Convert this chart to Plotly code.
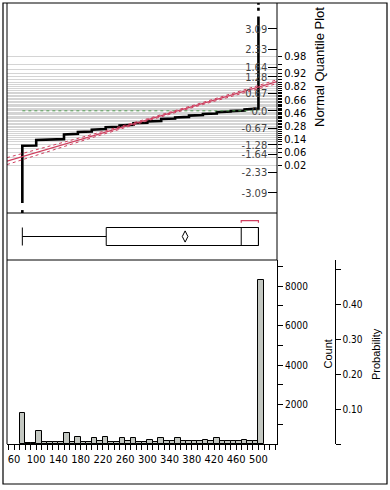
import plotly.graph_objects as go
from statistics import NormalDist

# ---------------- data ----------------
bin_start = [70, 80, 90, 100, 110, 120, 130, 140, 150, 160,
             170, 180, 190, 200, 210, 220, 230, 240, 250, 260,
             270, 280, 290, 300, 310, 320, 330, 340, 350, 360,
             370, 380, 390, 400, 410, 420, 430, 440, 450, 460,
             470, 480, 490, 500]
counts = [1580, 60, 60, 680, 80, 80, 80, 80, 570, 80,
          380, 80, 80, 280, 150, 380, 80, 80, 280, 150,
          310, 80, 80, 220, 80, 280, 150, 150, 310, 150,
          150, 150, 150, 220, 150, 310, 150, 150, 150, 150,
          220, 150, 150, 8300]
bin_width = 10

# normal quantile plot (sorted values vs normal quantile)
qq_value = [75, 75, 100, 100, 150, 150, 175, 175, 200, 200, 225, 225, 250, 250,
            275, 275, 300, 300, 325, 325, 350, 350, 375, 375, 400, 400, 425, 425,
            450, 450, 475, 475, 500, 500]
qq_z = [-3.48, -1.32, -1.31, -1.10, -1.07, -0.89, -0.87, -0.80, -0.78, -0.71,
        -0.69, -0.62, -0.60, -0.55, -0.53, -0.47, -0.45, -0.40, -0.38, -0.31,
        -0.29, -0.25, -0.23, -0.18, -0.16, -0.12, -0.10, -0.05, -0.03, -0.01,
        0.01, 0.05, 0.09, 3.56]
tip_low_z = [-3.86, -3.68]
tip_high_z = [3.78, 4.07]

fit_mu = 355
fit_sigma = 162
band_value = [47.4, 100, 200, 300, 400, 533.4]
band_half = [0.13, 0.10, 0.06, 0.04, 0.04, 0.07]

# box plot summary
bx_min, bx_q1, bx_median, bx_q3, bx_max = 75, 226, 469, 500, 500
bx_mean = 368
short_half = [469, 500]

quant_ticks = [3.09, 2.33, 1.64, 1.28, 0.67, 0.0, -0.67, -1.28, -1.64, -2.33, -3.09]
quant_labels = ["3.09", "2.33", "1.64", "1.28", "0.67", "0.0", "-0.67", "-1.28", "-1.64", "-2.33", "-3.09"]
prob_grid = [round(0.02 * k, 2) for k in range(1, 50)]
prob_labeled = [0.02, 0.06, 0.14, 0.28, 0.46, 0.66, 0.82, 0.92, 0.98]
x_tick_labeled = [60, 100, 140, 180, 220, 260, 300, 340, 380, 420, 460, 500]
count_ticks = [1000, 2000, 3000, 4000, 5000, 6000, 7000, 8000, 9000]
count_labeled = [2000, 4000, 6000, 8000]
prob_ticks = [0.0, 0.1, 0.2, 0.3, 0.4, 0.5]
prob_tick_labels = ["", "0.10", "0.20", "0.30", "0.40", ""]

# ---------------- layout helpers ----------------
W, H = 390, 490
def px(x):
    return x / W
def py(y):
    return 1 - y / H

x_range = [47.4, 533.4]
z_range = [-3.857, 4.07]
count_top = 9330
N = sum(counts)
nd = NormalDist()

TICKFONT = "Liberation Sans Narrow, Arial Narrow, DejaVu Sans Condensed, Liberation Sans, Arial"
LABFONT = "Liberation Sans, Arial, Helvetica"
RED = "#cf3f5f"

fig = go.Figure()

# quantile plot
fig.add_trace(go.Scatter(x=qq_value, y=qq_z, mode="lines",
                         line=dict(color="black", width=2.6), xaxis="x", yaxis="y",
                         hoverinfo="skip", showlegend=False))
fig.add_trace(go.Scatter(x=[qq_value[0]] * 2, y=tip_low_z, mode="lines",
                         line=dict(color="black", width=2.6, dash="dot"), xaxis="x", yaxis="y",
                         hoverinfo="skip", showlegend=False))
fig.add_trace(go.Scatter(x=[qq_value[-1]] * 2, y=tip_high_z, mode="lines",
                         line=dict(color="black", width=2.6, dash="dot"), xaxis="x", yaxis="y",
                         hoverinfo="skip", showlegend=False))
# zero reference (green dotted)
fig.add_trace(go.Scatter(x=[bx_min, bx_max], y=[0, 0], mode="lines",
                         line=dict(color="#4f9a4f", width=1, dash="dot"), xaxis="x", yaxis="y",
                         hoverinfo="skip", showlegend=False))
# normal fit line and confidence bands
fig.add_trace(go.Scatter(x=x_range, y=[(v - fit_mu) / fit_sigma for v in x_range], mode="lines",
                         line=dict(color=RED, width=1.2), xaxis="x", yaxis="y",
                         hoverinfo="skip", showlegend=False))
for sgn in (1, -1):
    fig.add_trace(go.Scatter(x=band_value,
                             y=[(v - fit_mu) / fit_sigma + sgn * h for v, h in zip(band_value, band_half)],
                             mode="lines", line=dict(color=RED, width=1, dash="dot"),
                             xaxis="x", yaxis="y", hoverinfo="skip", showlegend=False))
# invisible trace for probability overlay axis
fig.add_trace(go.Scatter(x=[bx_min], y=[0], mode="markers", marker=dict(opacity=0),
                         xaxis="x", yaxis="y2", hoverinfo="skip", showlegend=False))

# box plot
fig.add_trace(go.Box(y=[0], q1=[bx_q1], median=[bx_median], q3=[bx_q3],
                     lowerfence=[bx_min], upperfence=[bx_max], orientation="h",
                     width=1, whiskerwidth=1, fillcolor="white",
                     line=dict(color="black", width=1), boxpoints=False,
                     xaxis="x2", yaxis="y3", hoverinfo="skip", showlegend=False))
fig.add_trace(go.Scatter(x=[bx_mean], y=[0], mode="markers",
                         marker=dict(symbol="diamond-tall-open", size=8, color="black",
                                     line=dict(width=1, color="black")),
                         xaxis="x2", yaxis="y3", hoverinfo="skip", showlegend=False))
fig.add_trace(go.Scatter(x=[short_half[0], short_half[0], short_half[1], short_half[1]],
                         y=[0.76, 0.88, 0.88, 0.76], mode="lines",
                         line=dict(color=RED, width=1.2), xaxis="x2", yaxis="y3",
                         hoverinfo="skip", showlegend=False))

# histogram
fig.add_trace(go.Bar(x=[s + bin_width / 2 for s in bin_start], y=counts, width=bin_width,
                     marker=dict(color="#c3c7c1", line=dict(color="black", width=1)),
                     xaxis="x3", yaxis="y4", hoverinfo="skip", showlegend=False))
fig.add_trace(go.Scatter(x=[bin_start[0]], y=[counts[0] / N], mode="markers",
                         marker=dict(opacity=0), xaxis="x3", yaxis="y5",
                         hoverinfo="skip", showlegend=False))

xdom = [px(7), px(277)]
common_x = dict(domain=xdom, range=x_range, showgrid=False, zeroline=False)

fig.update_layout(
    width=W, height=H, margin=dict(l=0, r=0, t=0, b=0),
    paper_bgcolor="white", plot_bgcolor="rgba(0,0,0,0)",
    showlegend=False, bargap=0,
    font=dict(family=TICKFONT, color="black"),
    xaxis=dict(**common_x, anchor="y", visible=False),
    xaxis2=dict(**common_x, anchor="y3", visible=False),
    xaxis3=dict(**common_x, anchor="y4",
                tickvals=list(range(50, 531, 10)),
                ticktext=[str(v) if v in x_tick_labeled else "" for v in range(50, 531, 10)],
                ticks="outside", ticklen=5, tickcolor="black", tickwidth=1,
                showline=True, linecolor="black", linewidth=1,
                tickfont=dict(size=11, family=TICKFONT)),
    yaxis=dict(domain=[py(213), py(3)], range=z_range, anchor="x", side="right",
               tickvals=quant_ticks, ticktext=quant_labels, ticks="inside", ticklen=9,
               tickcolor="black", ticklabelposition="inside", showgrid=False, zeroline=False,
               tickfont=dict(size=11, family=TICKFONT)),
    yaxis2=dict(range=z_range, overlaying="y", anchor="x", side="right",
                tickvals=[nd.inv_cdf(p) for p in prob_grid],
                ticktext=[("%.2f" % p) if p in prob_labeled else "" for p in prob_grid],
                ticks="outside", ticklen=4, tickcolor="black",
                showgrid=True, gridcolor="#d4d4d4", gridwidth=1, zeroline=False,
                tickfont=dict(size=11, family=TICKFONT)),
    yaxis3=dict(domain=[py(260), py(213)], range=[-1.305, 1.305], anchor="x2", visible=False),
    yaxis4=dict(domain=[py(444), py(260)], range=[0, count_top], anchor="x3", side="right",
                tickvals=count_ticks,
                ticktext=[str(v) if v in count_labeled else "" for v in count_ticks],
                ticks="outside", ticklen=5, tickcolor="black", showline=True,
                linecolor="black", showgrid=False, zeroline=False,
                tickfont=dict(size=10, family=TICKFONT)),
    yaxis5=dict(range=[0, count_top / N], overlaying="y4", anchor="free", position=px(334.5),
                side="right", tickvals=prob_ticks, ticktext=prob_tick_labels,
                ticks="outside", ticklen=5, tickcolor="black", showline=True,
                linecolor="black", showgrid=False, zeroline=False,
                tickfont=dict(size=10, family=TICKFONT)),
)

def hline(x0, x1, y):
    return dict(type="line", xref="paper", yref="paper", x0=px(x0), x1=px(x1), y0=py(y), y1=py(y),
                line=dict(color="black", width=1))
def vline(x, y0, y1):
    return dict(type="line", xref="paper", yref="paper", x0=px(x), x1=px(x), y0=py(y0), y1=py(y1),
                line=dict(color="black", width=1))

shapes = [
    dict(type="rect", xref="paper", yref="paper", x0=px(3), x1=px(387), y0=py(484), y1=py(3),
         line=dict(color="black", width=1.2)),
    vline(7, 3, 444), vline(277, 3, 260),
    hline(7, 277, 213), hline(7, 277, 260),
]
fig.update_layout(shapes=shapes)

ann = dict(xref="paper", yref="paper", textangle=-90, showarrow=False,
           xanchor="center", yanchor="middle")
fig.add_annotation(text="Normal Quantile Plot", x=px(320), y=py(67),
                   font=dict(size=13, family=LABFONT), **ann)
fig.add_annotation(text="Count", x=px(327.5), y=py(354),
                   font=dict(size=11, family=LABFONT), **ann)
fig.add_annotation(text="Probability", x=px(376), y=py(354),
                   font=dict(size=11, family=LABFONT), **ann)

fig.write_html("out.html", config={"displayModeBar": False},
               post_script="document.body.style.margin='0';document.body.style.overflow='hidden';")
